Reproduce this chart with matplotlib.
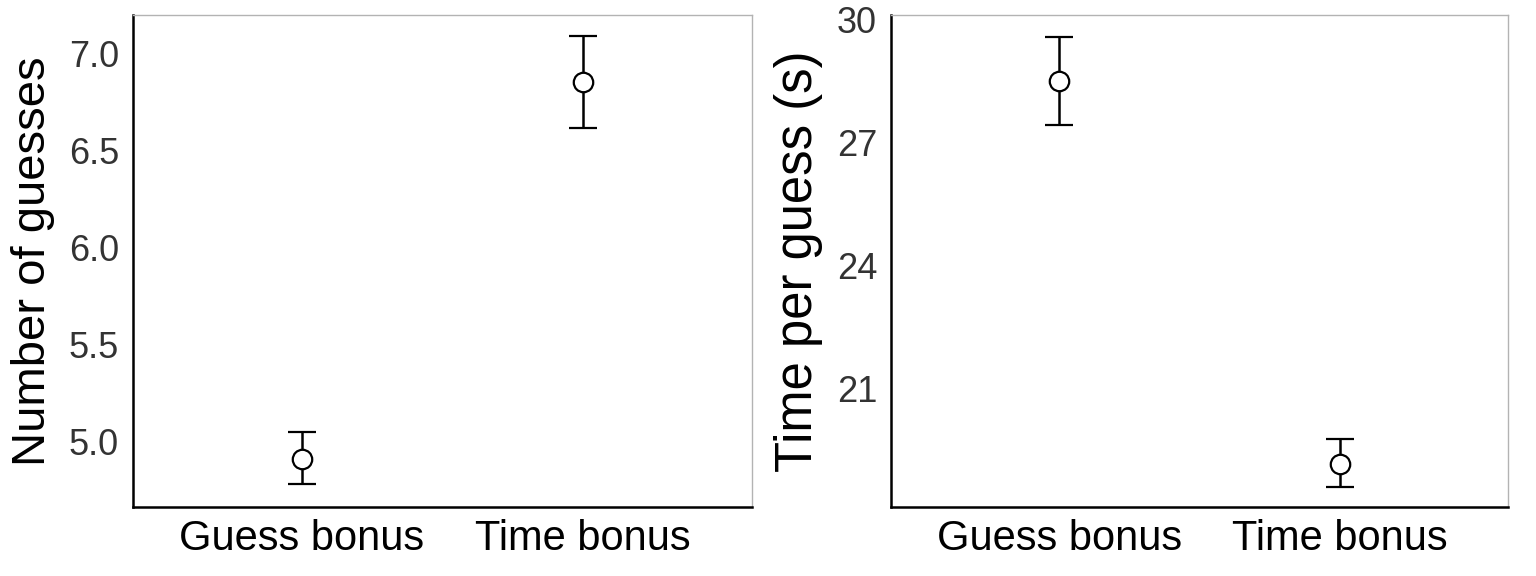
import numpy as np
import matplotlib
matplotlib.use("Agg")
import matplotlib.pyplot as plt

plt.rcParams['font.family'] = ['Liberation Sans', 'DejaVu Sans']

conditions = ["Guess bonus", "Time bonus"]

# Number of guesses: mean and interval ends
guesses_mean = [4.91, 6.855]
guesses_low = [4.778, 6.618]
guesses_high = [5.046, 7.093]

# Time per guess (s): mean and interval ends
time_mean = [28.51, 19.17]
time_low = [27.44, 18.61]
time_high = [29.585, 19.78]

panels = [
    dict(mean=guesses_mean, low=guesses_low, high=guesses_high,
         ylabel="Number of guesses", ylabel_size=34,
         yticks=[5.0, 5.5, 6.0, 6.5, 7.0],
         yticklabels=["5.0", "5.5", "6.0", "6.5", "7.0"], ylim=(4.66, 7.20),
         rect=[133/1536, 69/576, 619/1536, 492/576]),
    dict(mean=time_mean, low=time_low, high=time_high,
         ylabel="Time per guess (s)", ylabel_size=36.5,
         yticks=[21, 24, 27, 30],
         yticklabels=["21", "24", "27", "30"], ylim=(18.12, 30.12),
         rect=[891/1536, 69/576, 617/1536, 492/576]),
]

fig = plt.figure(figsize=(15.36, 5.76), dpi=100)

for p in panels:
    ax = fig.add_axes(p["rect"])
    x = np.arange(1, len(conditions) + 1)
    mean = np.array(p["mean"])
    yerr = [mean - np.array(p["low"]), np.array(p["high"]) - mean]
    ax.errorbar(x, mean, yerr=yerr, fmt='o', ms=14, mfc='white', mec='black',
                mew=1.6, ecolor='black', elinewidth=1.8, capsize=10,
                capthick=1.8, zorder=3)
    ax.set_xlim(0.4, 2.6)
    ax.set_ylim(*p["ylim"])
    ax.set_xticks(x)
    ax.set_xticklabels(conditions, fontsize=30, color='black')
    ax.set_yticks(p["yticks"])
    ax.set_yticklabels(p["yticklabels"], fontsize=26, color='#333333')
    ax.tick_params(axis='both', length=0)
    ax.tick_params(axis='y', pad=10)
    ax.tick_params(axis='x', pad=9)
    ax.set_ylabel(p["ylabel"], fontsize=p["ylabel_size"], color='black',
                  labelpad=10)
    for side in ["left", "bottom"]:
        ax.spines[side].set_color('black')
        ax.spines[side].set_linewidth(1.8)
    for side in ["top", "right"]:
        ax.spines[side].set_color('#b3b3b3')
        ax.spines[side].set_linewidth(1.0)

fig.savefig("out.png", dpi=100)
